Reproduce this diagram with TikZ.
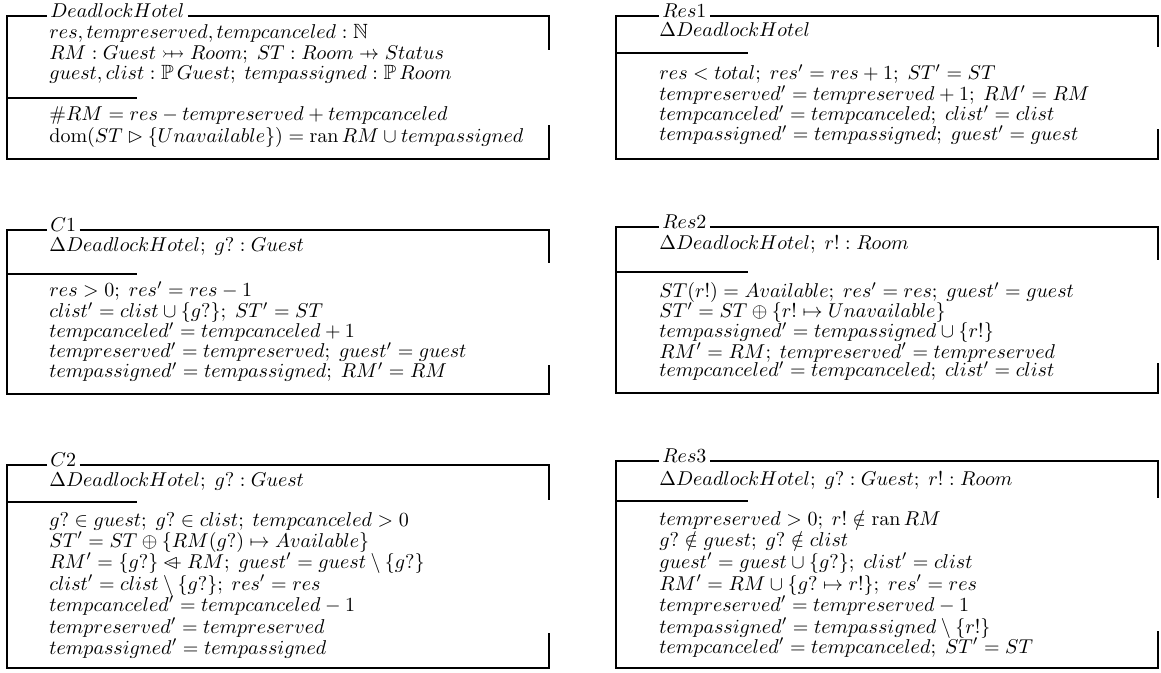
\documentclass[tikz,border=0pt]{standalone}
\usepackage{amssymb}
\usetikzlibrary{calc}

% Z notation symbols
\newcommand\zpinj{\mathrel{\ooalign{$\rightarrowtail$\cr\hfil$\mapstochar\mkern5mu$\hfil\cr}}}
\newcommand\zpfun{\mathrel{\ooalign{$\rightarrow$\cr\hfil$\mapstochar\mkern5mu$\hfil\cr}}}
\newcommand\zndres{\mathbin{\ooalign{$\lhd$\cr\hfil$\mkern4mu\relbar$\hfil\cr}}}
\newcommand\zdom{\mathrm{dom}}
\newcommand\zran{\mathrm{ran}\,}

% schema frame: title node, left, right, top, divider y, divider end, bottom, right-top end, right-bottom start
\newcommand\zframe[9]{%
  \draw[zrule] (#1.west |- 0,#4) -- (#2,#4) -- (#2,#7) -- (#3,#7) -- (#3,#9);
  \draw[zrule] (#1.east |- 0,#4) -- (#3,#4) -- (#3,#8);
  \draw[zrule] (#2,#5) -- (#6,#5);
}

\tikzset{
  zrule/.style={line width=1.3pt, line join=miter},
  zline/.style={anchor=base west, inner sep=0pt, text height=1.4ex, text depth=0.2ex,
                font=\fontsize{10.3}{12}\selectfont},
  ztitle/.style={anchor=base west, inner xsep=1.5pt, inner ysep=0pt, text height=1.4ex, text depth=0pt,
                 font=\fontsize{10.3}{12}\selectfont},
}

\begin{document}
\begin{tikzpicture}[x=0.5pt,y=-0.5pt]
\useasboundingbox (0,0) rectangle (1161,673);

% ---------- DeadlockHotel ----------
\node[ztitle] (dh) at (47,17.5) {$DeadlockHotel$};
\zframe{dh}{7}{549}{16}{98}{137}{159}{50}{125}
\node[zline] (dh1) at (49,39)  {$res, tempreserved, tempcanceled : \mathbb{N}$};
\node[zline] (dh2) at (49,59.5){$RM : Guest \zpinj Room;\; ST : Room \zpfun Status$};
\node[zline] (dh3) at (49,80)  {$guest, clist : \mathbb{P}\,Guest;\; tempassigned : \mathbb{P}\,Room$};
\node[zline] (dh4) at (49,121) {$\#RM = res - tempreserved + tempcanceled$};
\node[zline] (dh5) at (49,143) {$\zdom(ST \rhd \{Unavailable\}) = \zran RM \cup tempassigned$};

% ---------- Res1 ----------
\node[ztitle] (r1) at (659,17.5) {$Res1$};
\zframe{r1}{616}{1158}{16}{53}{748}{159}{47}{129}
\node[zline] (r1a) at (659,37)   {$\Delta DeadlockHotel$};
\node[zline] (r1b) at (659,80)   {$res < total;\; res' = res + 1;\; ST' = ST$};
\node[zline] (r1c) at (659,100.5){$tempreserved' = tempreserved + 1;\; RM' = RM$};
\node[zline] (r1d) at (659,121)  {$tempcanceled' = tempcanceled;\; clist' = clist$};
\node[zline] (r1e) at (659,141)  {$tempassigned' = tempassigned;\; guest' = guest$};

% ---------- C1 ----------
\node[ztitle] (c1) at (47,231.5) {$C1$};
\zframe{c1}{7}{549}{230}{274}{137}{394}{263}{365}
\node[zline] (c1a) at (49,252)   {$\Delta DeadlockHotel;\; g? : Guest$};
\node[zline] (c1b) at (49,297)   {$res > 0;\; res' = res - 1$};
\node[zline] (c1c) at (49,317.5) {$clist' = clist \cup \{g?\};\; ST' = ST$};
\node[zline] (c1d) at (49,338)   {$tempcanceled' = tempcanceled + 1$};
\node[zline] (c1e) at (49,357.5) {$tempreserved' = tempreserved;\; guest' = guest$};
\node[zline] (c1f) at (49,378)   {$tempassigned' = tempassigned;\; RM' = RM$};

% ---------- Res2 ----------
\node[ztitle] (r2) at (659,228.5) {$Res2$};
\zframe{r2}{616}{1158}{227}{272}{748}{393}{260}{363}
\node[zline] (r2a) at (659,250) {$\Delta DeadlockHotel;\; r! : Room$};
\node[zline] (r2b) at (659,298) {$ST(r!) = Available;\; res' = res;\; guest' = guest$};
\node[zline] (r2c) at (659,318) {$ST' = ST \oplus \{r! \mapsto Unavailable\}$};
\node[zline] (r2d) at (659,338) {$tempassigned' = tempassigned \cup \{r!\}$};
\node[zline] (r2e) at (659,358) {$RM' = RM;\; tempreserved' = tempreserved$};
\node[zline] (r2f) at (659,377) {$tempcanceled' = tempcanceled;\; clist' = clist$};

% ---------- C2 ----------
\node[ztitle] (c2) at (47,466.5) {$C2$};
\zframe{c2}{7}{549}{465}{502}{137}{668}{500}{633}
\node[zline] (c2a) at (49,486) {$\Delta DeadlockHotel;\; g? : Guest$};
\node[zline] (c2b) at (49,526) {$g? \in guest;\; g? \in clist;\; tempcanceled > 0$};
\node[zline] (c2c) at (49,547) {$ST' = ST \oplus \{RM(g?) \mapsto Available\}$};
\node[zline] (c2d) at (49,568) {$RM' = \{g?\} \zndres RM;\; guest' = guest \setminus \{g?\}$};
\node[zline] (c2e) at (49,590) {$clist' = clist \setminus \{g?\};\; res' = res$};
\node[zline] (c2f) at (49,611) {$tempcanceled' = tempcanceled - 1$};
\node[zline] (c2g) at (49,633) {$tempreserved' = tempreserved$};
\node[zline] (c2h) at (49,654) {$tempassigned' = tempassigned$};

% ---------- Res3 ----------
\node[ztitle] (r3) at (659,462.5) {$Res3$};
\zframe{r3}{616}{1158}{461}{501}{748}{668}{498}{631}
\node[zline] (r3a) at (659,485) {$\Delta DeadlockHotel;\; g? : Guest;\; r! : Room$};
\node[zline] (r3b) at (659,525) {$tempreserved > 0;\; r! \notin \zran RM$};
\node[zline] (r3c) at (659,546) {$g? \notin guest;\; g? \notin clist$};
\node[zline] (r3d) at (659,568) {$guest' = guest \cup \{g?\};\; clist' = clist$};
\node[zline] (r3e) at (659,590) {$RM' = RM \cup \{g? \mapsto r!\};\; res' = res$};
\node[zline] (r3f) at (659,611) {$tempreserved' = tempreserved - 1$};
\node[zline] (r3g) at (659,633) {$tempassigned' = tempassigned \setminus \{r!\}$};
\node[zline] (r3h) at (659,653) {$tempcanceled' = tempcanceled;\; ST' = ST$};
\end{tikzpicture}
\end{document}
